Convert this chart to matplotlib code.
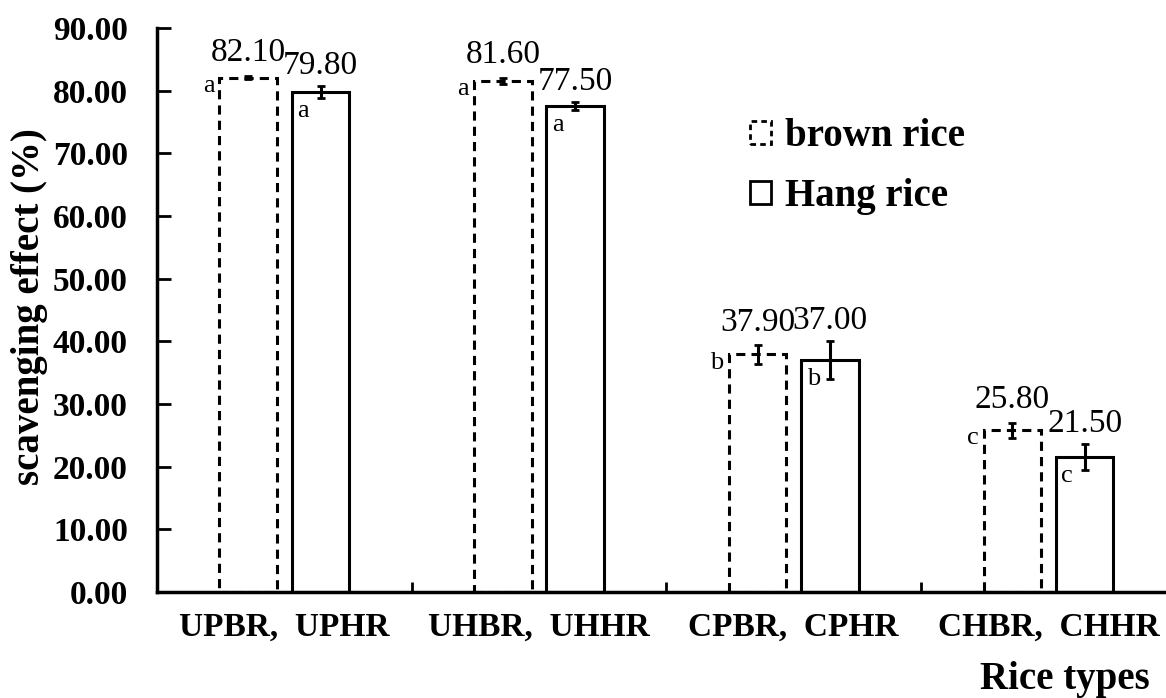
import numpy as np
import matplotlib
matplotlib.use("Agg")
import matplotlib.pyplot as plt
from matplotlib.patches import Patch

# ─── DATA ─────────────────────────────────────────────────────────────────────

groups     = ["UPBR,  UPHR", "UHBR,  UHHR", "CPBR,  CPHR", "CHBR,  CHHR"]
brown      = [82.10, 81.60, 37.90, 25.80]
hang       = [79.80, 77.50, 37.00, 21.50]
brown_err  = [0.3, 0.5, 1.5, 1.2]
hang_err   = [1.0, 0.65, 3.0, 2.1]
brown_sig  = ["a", "a", "b", "c"]
hang_sig   = ["a", "a", "b", "c"]
yticks     = [0, 10, 20, 30, 40, 50, 60, 70, 80, 90]

# ─── STYLE ────────────────────────────────────────────────────────────────────

plt.rcParams["font.family"] = ["Liberation Serif", "DejaVu Serif"]
LW     = 2.2
BAR_W  = 0.226
OFFSET = 0.142

fig = plt.figure(figsize=(11.66, 6.98), dpi=100)
ax = fig.add_axes([157 / 1166, 106 / 698, 1009 / 1166, 564 / 698])

x = np.arange(len(groups))
xb = x - OFFSET
xh = x + OFFSET

ax.bar(xb, brown, BAR_W, facecolor="white", edgecolor="black",
       linewidth=LW, linestyle=(0, (3, 2)), zorder=2)
ax.bar(xh, hang, BAR_W, facecolor="white", edgecolor="black",
       linewidth=LW, zorder=2)

ax.errorbar(xb, brown, yerr=brown_err, fmt="none", ecolor="black",
            elinewidth=2.2, capsize=3, capthick=2, zorder=3)
ax.errorbar(xh, hang, yerr=hang_err, fmt="none", ecolor="black",
            elinewidth=2.2, capsize=3, capthick=2, zorder=3)

# value labels
for xi, v, e in zip(xb, brown, brown_err):
    ax.text(xi, v + e + 1.2, f"{v:.2f}", ha="center", va="bottom", fontsize=24)
for xi, v, e in zip(xh, hang, hang_err):
    ax.text(xi, v + e + 0.8, f"{v:.2f}", ha="center", va="bottom", fontsize=24)

# significance letters
for xi, v, s in zip(xb, brown, brown_sig):
    ax.text(xi - BAR_W / 2 - 0.02, v - 1.3, s, ha="right", va="center", fontsize=19)
for xi, v, s in zip(xh, hang, hang_sig):
    ax.text(xi - BAR_W / 2 + 0.022, v - 3.0, s, ha="left", va="center", fontsize=19)

# axes
ax.set_ylim(0, 90)
ax.set_xlim(-0.5, -0.5 + 1009 / 254.7)
ax.set_yticks(yticks)
ax.set_yticklabels([f"{t:.2f}" for t in yticks], fontsize=24, fontweight="bold")
ax.set_xticks(x)
ax.set_xticklabels(groups, fontsize=24, fontweight="bold")
ax.set_xticks([0.5, 1.5, 2.5], minor=True)

ax.tick_params(axis="y", direction="in", length=10, width=2, pad=21)
ax.tick_params(axis="x", which="major", length=0, pad=14)
ax.tick_params(axis="x", which="minor", direction="in", length=7, width=2)

for sp in ("top", "right"):
    ax.spines[sp].set_visible(False)
for sp in ("left", "bottom"):
    ax.spines[sp].set_linewidth(2.5)

fig.text(30 / 1166, 1 - 307 / 698, "scavenging effect (%)", rotation=90,
         ha="center", va="center", fontsize=28, fontweight="bold")
fig.text(1150 / 1166, 0.0, "Rice types", ha="right", va="bottom",
         fontsize=28, fontweight="bold")

handles = [
    Patch(facecolor="white", edgecolor="black", linewidth=2, linestyle=(0, (2, 1.5))),
    Patch(facecolor="white", edgecolor="black", linewidth=2),
]
fig.legend(handles, ["brown rice", "Hang rice"], loc="upper left",
           bbox_to_anchor=(750 / 1166, 1 - 118 / 698), frameon=False,
           prop={"size": 28, "weight": "bold"}, handlelength=0.55,
           handleheight=0.55, handletextpad=0.35, labelspacing=0.6,
           borderpad=0, borderaxespad=0)

fig.savefig("out.png", dpi=100)
